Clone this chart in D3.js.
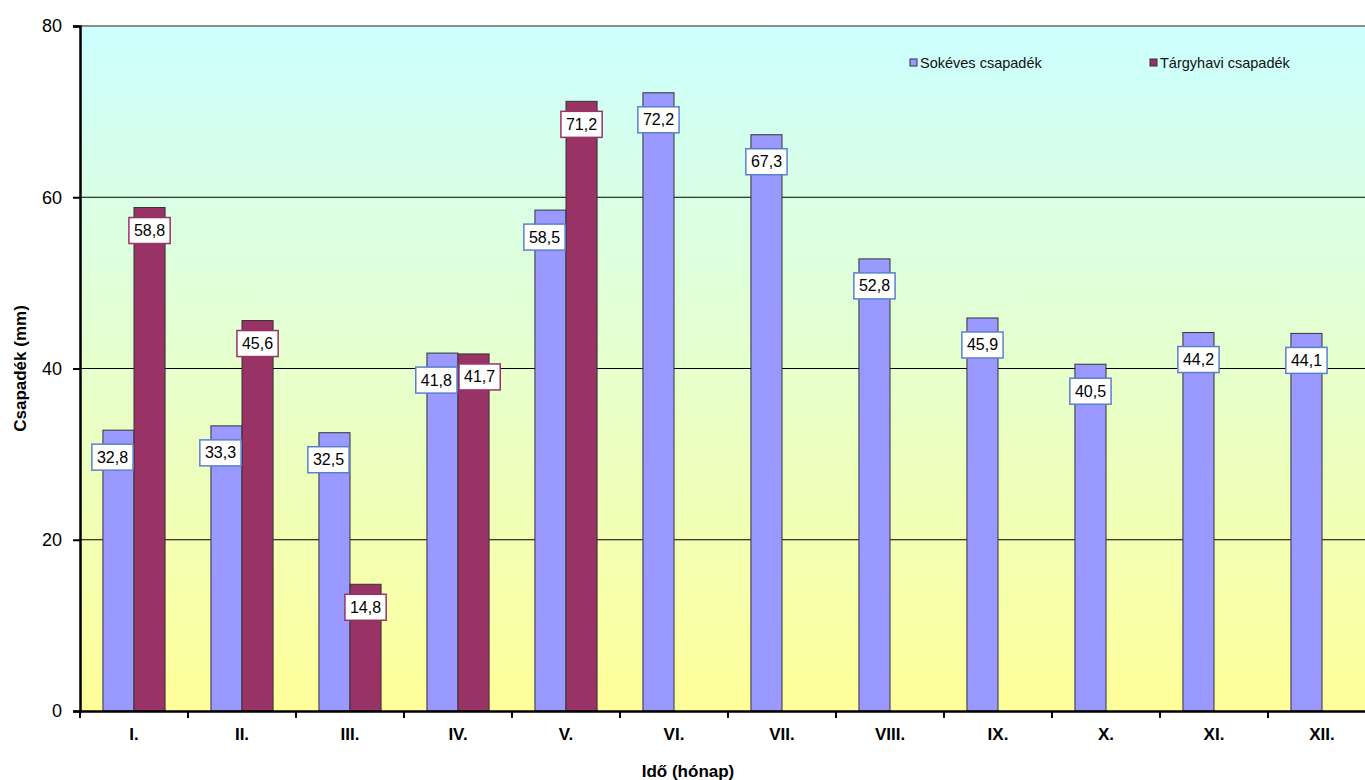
<!DOCTYPE html>
<html>
<head>
<meta charset="utf-8">
<script src="https://cdn.jsdelivr.net/npm/d3@7"></script>
<style>
  html, body { margin: 0; padding: 0; background: #ffffff; }
  svg { display: block; font-family: "Liberation Sans", Arial, sans-serif; }
</style>
</head>
<body>
<svg id="chart" width="1365" height="780"></svg>
<script>
// Monthly precipitation: long-term average vs. current year
const months = ["I.", "II.", "III.", "IV.", "V.", "VI.", "VII.", "VIII.", "IX.", "X.", "XI.", "XII."];
const sokeves = [32.8, 33.3, 32.5, 41.8, 58.5, 72.2, 67.3, 52.8, 45.9, 40.5, 44.2, 44.1];
const targyhavi = [58.8, 45.6, 14.8, 41.7, 71.2, null, null, null, null, null, null, null];
const seriesNames = ["Sokéves csapadék", "Tárgyhavi csapadék"];
const yTicks = [0, 20, 40, 60, 80];

const colors = ["#9999ff", "#993366"];
const labelBorders = ["#5b7fd0", "#993366"];

const svg = d3.select("#chart");
const plot = { left: 80, right: 1376, top: 26, bottom: 711 };

const x = d3.scaleBand()
  .domain(months)
  .range([plot.left, plot.right])
  .paddingInner(0.4246)
  .paddingOuter(0.2123);

const xs = d3.scaleBand()
  .domain([0, 1])
  .range([0, x.bandwidth()]);

const y = d3.scaleLinear()
  .domain([0, 80])
  .range([plot.bottom, plot.top]);

// Background gradient
const defs = svg.append("defs");
const grad = defs.append("linearGradient")
  .attr("id", "bg").attr("x1", 0).attr("y1", 0).attr("x2", 0).attr("y2", 1);
grad.append("stop").attr("offset", "0%").attr("stop-color", "#ccffff");
grad.append("stop").attr("offset", "50%").attr("stop-color", "#e6ffcc");
grad.append("stop").attr("offset", "100%").attr("stop-color", "#ffff99");

svg.append("rect")
  .attr("x", plot.left).attr("y", plot.top)
  .attr("width", plot.right - plot.left).attr("height", plot.bottom - plot.top)
  .attr("fill", "url(#bg)");

// Horizontal gridlines
svg.append("g").selectAll("line")
  .data(yTicks.filter(t => t > 0 && t < 80))
  .join("line")
  .attr("x1", plot.left).attr("x2", plot.right)
  .attr("y1", d => y(d)).attr("y2", d => y(d))
  .attr("stroke", "#000").attr("stroke-width", 1);

// Top border of the plot area
svg.append("line")
  .attr("x1", plot.left).attr("x2", plot.right)
  .attr("y1", y(80)).attr("y2", y(80))
  .attr("stroke", "#8c8c8c").attr("stroke-width", 2);

// Bars
const rows = months.map((m, i) => ({ month: m, values: [sokeves[i], targyhavi[i]] }));

const groups = svg.append("g").selectAll("g")
  .data(rows)
  .join("g")
  .attr("transform", d => `translate(${x(d.month)},0)`);

groups.selectAll("rect")
  .data(d => d.values.map((v, s) => ({ v, s })).filter(e => e.v !== null))
  .join("rect")
  .attr("x", d => xs(d.s))
  .attr("width", xs.bandwidth())
  .attr("y", d => y(d.v))
  .attr("height", d => y(0) - y(d.v))
  .attr("fill", d => colors[d.s])
  .attr("stroke", "#333")
  .attr("stroke-width", 1);

// Axes
const yAxis = d3.axisLeft(y).tickValues(yTicks).tickSize(7).tickPadding(11);
const gy = svg.append("g").attr("transform", `translate(${plot.left},0)`).call(yAxis);
gy.select(".domain").attr("stroke", "#000").attr("stroke-width", 2.5);
gy.selectAll(".tick line").attr("stroke", "#000").attr("stroke-width", 2);
gy.selectAll(".tick text").attr("font-size", 18).attr("fill", "#000")
  .attr("font-family", "Liberation Sans, Arial, sans-serif");

const xAxis = d3.axisBottom(x).tickSize(0).tickPadding(17);
const gx = svg.append("g").attr("transform", `translate(0,${plot.bottom})`).call(xAxis);
gx.select(".domain").attr("stroke", "#000").attr("stroke-width", 2.5);
gx.selectAll(".tick text").attr("font-size", 17).attr("font-weight", "bold").attr("fill", "#000")
  .attr("font-family", "Liberation Sans, Arial, sans-serif");

// Category separator ticks
svg.append("g").selectAll("line")
  .data(d3.range(months.length + 1))
  .join("line")
  .attr("x1", i => plot.left + i * x.step())
  .attr("x2", i => plot.left + i * x.step())
  .attr("y1", plot.bottom).attr("y2", plot.bottom + 7)
  .attr("stroke", "#000").attr("stroke-width", 2);

// Data labels
const labelFont = 16;
const labelH = 26;
const labels = [];
rows.forEach(r => {
  r.values.forEach((v, s) => {
    if (v === null) return;
    const text = d3.format(".1f")(v).replace(".", ",");
    const cx = x(r.month) + xs(s) + xs.bandwidth() / 2;
    labels.push({ text, s, month: r.month, cx, cy: y(v) + (s === 0 ? 27 : 23) });
  });
});

const lg = svg.append("g");
const labelNodes = lg.selectAll("g")
  .data(labels)
  .join("g");

labelNodes.append("text")
  .attr("text-anchor", "middle")
  .attr("dominant-baseline", "central")
  .attr("font-size", labelFont)
  .attr("fill", "#000")
  .text(d => d.text);

// measure text, then resolve horizontal overlaps inside each month
labelNodes.each(function (d) {
  d.w = this.querySelector("text").getBBox().width + 10;
});
months.forEach(m => {
  const pair = labels.filter(l => l.month === m);
  if (pair.length === 2) {
    const [a, b] = pair;
    const overlapY = Math.abs(a.cy - b.cy) < labelH;
    const gap = (b.cx - b.w / 2) - (a.cx + a.w / 2);
    if (overlapY && gap < 2) {
      const shift = (2 - gap) / 2;
      a.cx -= shift;
      b.cx += shift;
    } else if (!overlapY) {
      a.cx -= 6;
    }
  }
});

labelNodes.attr("transform", d => `translate(${d.cx},${d.cy})`);
labelNodes.insert("rect", "text")
  .attr("x", d => -d.w / 2).attr("y", -labelH / 2)
  .attr("width", d => d.w).attr("height", labelH)
  .attr("fill", "#fff")
  .attr("stroke", d => labelBorders[d.s])
  .attr("stroke-width", 1.5);

// Legend
const legendPos = [910, 1150];
const legend = svg.append("g").selectAll("g")
  .data(seriesNames)
  .join("g")
  .attr("transform", (d, i) => `translate(${legendPos[i]},63)`);
legend.append("rect")
  .attr("x", 0).attr("y", -4).attr("width", 7).attr("height", 7)
  .attr("fill", (d, i) => colors[i]).attr("stroke", "#333").attr("stroke-width", 1);
legend.append("text")
  .attr("x", 10).attr("y", 0)
  .attr("dominant-baseline", "central")
  .attr("font-size", 14.5).attr("fill", "#111")
  .text(d => d);

// Axis titles
svg.append("text")
  .attr("transform", `translate(26,${(plot.top + plot.bottom) / 2}) rotate(-90)`)
  .attr("text-anchor", "middle")
  .attr("font-size", 17).attr("font-weight", "bold").attr("fill", "#000")
  .text("Csapadék (mm)");

svg.append("text")
  .attr("x", 688).attr("y", 777)
  .attr("text-anchor", "middle")
  .attr("font-size", 17).attr("font-weight", "bold").attr("fill", "#000")
  .text("Idő (hónap)");
</script>
</body>
</html>
